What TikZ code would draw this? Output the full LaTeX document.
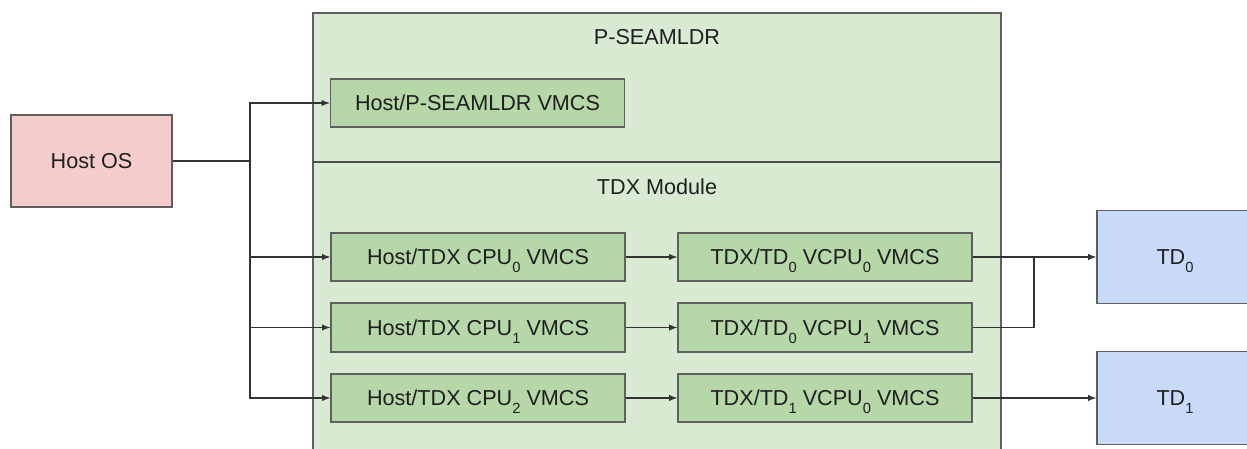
\documentclass[tikz,border=0pt]{standalone}
\usepackage{fontspec}
\setmainfont{Liberation Sans}
\usetikzlibrary{positioning, calc}

\definecolor{seamfill}{HTML}{D9EAD3}
\definecolor{vmcsfill}{HTML}{B6D7A8}
\definecolor{hostfill}{HTML}{F4CCCC}
\definecolor{tdfill}{HTML}{C9DAF8}
\definecolor{edgecol}{HTML}{5F5F5F}
\definecolor{linecol}{HTML}{333333}

% lowered index digit as in CPU0, TD0
\newcommand{\lowsub}[1]{\raisebox{-4.6pt}{\fontsize{8.4}{9}\selectfont #1}}

\tikzset{
	box/.style={draw=edgecol, line width=0.9pt, font=\fontsize{12.3}{14}\selectfont, text=black!88, inner sep=0pt, text depth=0pt},
	vmcs/.style={box, fill=vmcsfill, minimum width=5.88cm, minimum height=0.97cm},
	hostos/.style={box, fill=hostfill, minimum width=3.22cm, minimum height=1.84cm},
	tdbox/.style={box, fill=tdfill, minimum width=3.12cm, minimum height=1.86cm},
	link/.style={draw=linecol, line width=0.6pt},
	tolink/.style={link, -latex},
}

\begin{document}
\begin{tikzpicture}[x=0.02cm, y=-0.02cm]
			\useasboundingbox (0,0) rectangle (1247,449);
			\clip (0,0) rectangle (1247,449);
			% container: P-SEAMLDR above, TDX Module below
			\draw[draw=edgecol, fill=seamfill, line width=0.9pt] (313,13) rectangle (1001,470);
			\draw[draw=edgecol!80!black, line width=0.9pt] (313,162) -- (1001,162);
			\node[font=\fontsize{12.3}{14}\selectfont, text=black!88] (ldrlabel) at (657,37) {P-SEAMLDR};
			\node[font=\fontsize{12.3}{14}\selectfont, text=black!88] (tdxlabel) at (657,187) {TDX Module};

			\node[hostos] (host) at (91.5,161) {Host OS};
			\node[vmcs] (ldr) at (477.5,103) {Host/P-SEAMLDR VMCS};
			\node[vmcs] (cpu0) at (478,257) {Host/TDX CPU\lowsub{0} VMCS};
			\node[vmcs] (cpu1) at (478,327.5) {Host/TDX CPU\lowsub{1} VMCS};
			\node[vmcs] (cpu2) at (478,398) {Host/TDX CPU\lowsub{2} VMCS};
			\node[vmcs] (vcpu00) at (825,257) {TDX/TD\lowsub{0} VCPU\lowsub{0} VMCS};
			\node[vmcs] (vcpu01) at (825,327.5) {TDX/TD\lowsub{0} VCPU\lowsub{1} VMCS};
			\node[vmcs] (vcpu10) at (825,398) {TDX/TD\lowsub{1} VCPU\lowsub{0} VMCS};
			\node[tdbox] (td0) at (1175,257) {TD\lowsub{0}};
			\node[tdbox] (td1) at (1175,398) {TD\lowsub{1}};

			\coordinate (split) at (250,161);
			\coordinate (merge) at (1034,257);

			\draw[link, line width=1.1pt] (host) -- (split);
			\draw[tolink] (split) |- (ldr);
			\draw[tolink] (split) |- (cpu0);
			\draw[tolink] (split) |- (cpu1);
			\draw[tolink] (split) |- (cpu2);
			\draw[tolink] (cpu0) -- (vcpu00);
			\draw[tolink] (cpu1) -- (vcpu01);
			\draw[tolink] (cpu2) -- (vcpu10);
			\draw[tolink] (vcpu00) -- (td0);
			\draw[link] (vcpu01) -| (merge);
			\draw[tolink] (vcpu10) -- (td1);
		\end{tikzpicture}
\end{document}
